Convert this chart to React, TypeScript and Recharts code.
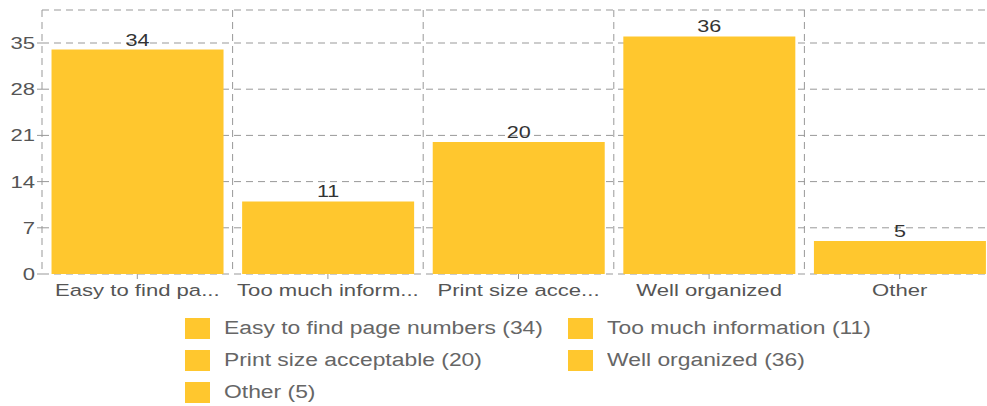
import { BarChart, Bar, XAxis, YAxis, CartesianGrid, Legend, LabelList } from 'recharts';

const categories = ['Easy to find page numbers', 'Too much information', 'Print size acceptable', 'Well organized', 'Other'];
const counts = [34, 11, 20, 36, 5];
const yTicks = [0, 7, 14, 21, 28, 35];

const BAR_COLOR = '#FFC72E';
const FONT = '"Liberation Sans", Arial, sans-serif';
// the source render has its text stretched sideways
const STRETCH = 1.3;

const data = categories.map((name, i) => ({ name, value: counts[i] }));

const shorten = (s: string) => (s.length > 15 ? `${s.slice(0, 15)}...` : s);

function XTick({ x, y, payload }: any) {
  return (
    <g transform={`translate(${x},${y + 3})`}>
      <text transform={`scale(${STRETCH},1)`} textAnchor="middle" dy="0.71em" fontSize={17} fill="#555" fontFamily={FONT}>
        {shorten(payload.value)}
      </text>
    </g>
  );
}

function YTick({ x, y, payload }: any) {
  return (
    <g transform={`translate(${x},${y})`}>
      <text transform={`scale(${STRETCH},1)`} textAnchor="end" dy="0.355em" fontSize={17} fill="#555" fontFamily={FONT}>
        {payload.value}
      </text>
    </g>
  );
}

function BarLabel({ x, y, width, value }: any) {
  return (
    <g transform={`translate(${x + width / 2},${y - 4})`}>
      <text transform="scale(1.27,1)" textAnchor="middle" fontSize={17} fill="#333" fontFamily={FONT}>
        {value}
      </text>
    </g>
  );
}

function LegendBox() {
  return (
    <div
      style={{
        height: 96,
        display: 'grid',
        gridTemplateColumns: '383px 380px',
        gridAutoRows: '32px',
        paddingLeft: 185,
        paddingTop: 8,
        boxSizing: 'border-box',
        fontFamily: FONT,
        fontSize: 18,
        color: '#666',
      }}
    >
      {data.map((d) => (
        <div key={d.name} style={{ display: 'flex', alignItems: 'center', whiteSpace: 'nowrap' }}>
          <span style={{ width: 25, height: 21, background: BAR_COLOR, marginRight: 14, display: 'inline-block', flex: 'none' }} />
          <span style={{ display: 'inline-block', transform: 'scaleX(1.27)', transformOrigin: 'left center' }}>
            {`${d.name} (${d.value})`}
          </span>
        </div>
      ))}
    </div>
  );
}

export default function App() {
  return (
    <div style={{ position: 'absolute', left: 0, top: 0, width: 987, height: 406, overflow: 'hidden', background: '#fff' }}>
      <BarChart
        width={995}
        height={406}
        data={data}
        margin={{ top: 10, right: 0, left: 0, bottom: 6 }}
        barCategoryGap="5%"
      >
        <CartesianGrid
          stroke="#999"
          strokeDasharray="7 5"
          verticalCoordinatesGenerator={({ offset }: any) =>
            categories.map((_, i) => offset.left + (i * offset.width) / categories.length)
          }
        />
        <XAxis
          dataKey="name"
          axisLine={false}
          tickLine={{ stroke: '#999' }}
          tickSize={5}
          height={30}
          interval={0}
          tick={<XTick />}
        />
        <YAxis
          domain={[0, 40]}
          ticks={yTicks}
          axisLine={false}
          tickLine={{ stroke: '#999' }}
          tickSize={5}
          width={42}
          tick={<YTick />}
        />
        <Legend verticalAlign="bottom" content={() => <LegendBox />} />
        <Bar dataKey="value" fill={BAR_COLOR} isAnimationActive={false}>
          <LabelList dataKey="value" content={<BarLabel />} />
        </Bar>
      </BarChart>
    </div>
  );
}
